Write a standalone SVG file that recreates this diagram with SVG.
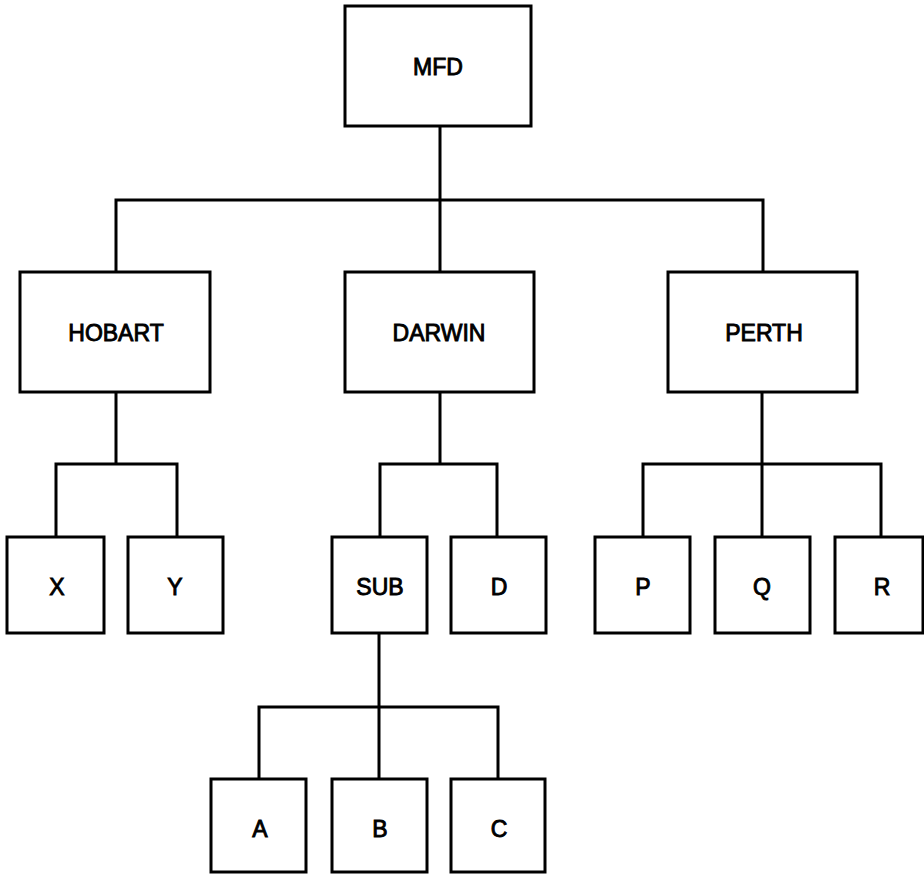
<svg xmlns="http://www.w3.org/2000/svg" width="924" height="874" viewBox="0 0 924 874">
<style>
.box{fill:#fff;stroke:#000;stroke-width:3}
.lbl{font-family:"Liberation Sans",Arial,sans-serif;font-weight:normal;font-size:23px;text-anchor:middle;fill:#000;stroke:#000;stroke-width:0.9}
.conn{fill:none;stroke:#000;stroke-width:3;stroke-linecap:square;stroke-linejoin:miter}
</style>
<rect width="924" height="874" fill="#fff"/>
<g id="connectors">
<path class="conn" d="M440,126 V272 M116,272 V200 H763 V272"/>
<path class="conn" d="M116,392 V464 M56,537 V464 H177 V537"/>
<path class="conn" d="M440,392 V464 M380,537 V464 H497 V537"/>
<path class="conn" d="M762,392 V537 M643,537 V464 H881 V537"/>
<path class="conn" d="M379,633 V779 M259,779 V707 H498 V779"/>
</g>
<g id="MFD"><rect class="box" x="345" y="6" width="186" height="120"/><text class="lbl" x="438" y="75">MFD</text></g>
<g id="HOBART"><rect class="box" x="20" y="272" width="190" height="120"/><text class="lbl" x="116" y="341">HOBART</text></g>
<g id="DARWIN"><rect class="box" x="345" y="272" width="189" height="120"/><text class="lbl" x="439" y="341">DARWIN</text></g>
<g id="PERTH"><rect class="box" x="668" y="272" width="189" height="120"/><text class="lbl" x="764" y="341">PERTH</text></g>
<g id="X"><rect class="box" x="7" y="537" width="97" height="96"/><text class="lbl" x="57" y="595">X</text></g>
<g id="Y"><rect class="box" x="128" y="537" width="95" height="96"/><text class="lbl" x="175" y="595">Y</text></g>
<g id="SUB"><rect class="box" x="332" y="537" width="95" height="96"/><text class="lbl" x="380" y="595">SUB</text></g>
<g id="D"><rect class="box" x="451" y="537" width="95" height="96"/><text class="lbl" x="499" y="595">D</text></g>
<g id="P"><rect class="box" x="595" y="537" width="95" height="96"/><text class="lbl" x="643" y="595">P</text></g>
<g id="Q"><rect class="box" x="715" y="537" width="95" height="96"/><text class="lbl" x="762" y="595">Q</text></g>
<g id="R"><rect class="box" x="835" y="537" width="88" height="96"/><text class="lbl" x="882" y="595">R</text></g>
<g id="A"><rect class="box" x="211" y="779" width="95" height="93"/><text class="lbl" x="260" y="837">A</text></g>
<g id="B"><rect class="box" x="332" y="779" width="95" height="93"/><text class="lbl" x="380" y="837">B</text></g>
<g id="C"><rect class="box" x="451" y="779" width="94" height="93"/><text class="lbl" x="499" y="837">C</text></g>
</svg>
